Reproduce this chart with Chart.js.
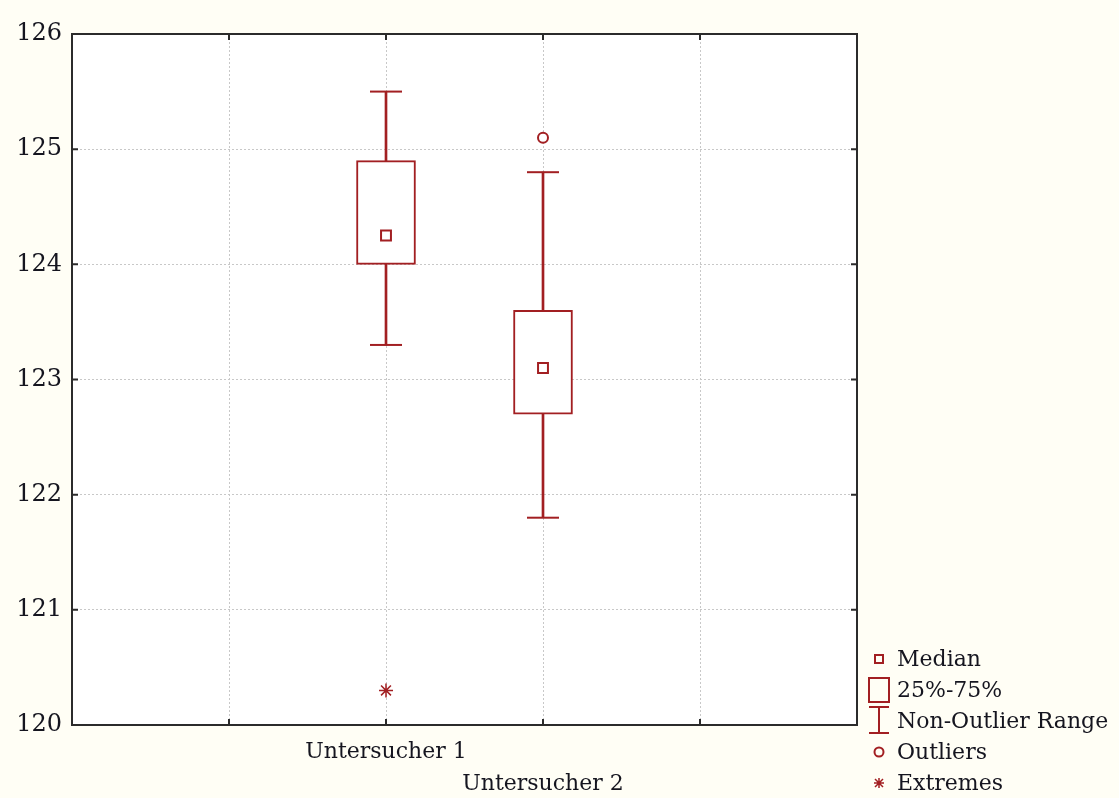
<!DOCTYPE html>
<html>
<head>
<meta charset="utf-8">
<script src="https://cdn.jsdelivr.net/npm/chart.js@4/dist/chart.umd.min.js"></script>
<style>
    html, body { margin: 0; padding: 0; background: #fffef5; }
    #wrap { width: 1119px; height: 798px; }
</style>
</head>
<body>
<div id="wrap"><canvas id="box-chart"></canvas></div>
<script>
// Box plot values
const groups = ['Untersucher 1', 'Untersucher 2'];
const groupPos = [1, 2];
const medians = [124.25, 123.1];
const q1 = [124.0, 122.7];
const q3 = [124.9, 123.6];
const whiskerLow = [123.3, 121.8];
const whiskerHigh = [125.5, 124.8];
const outliers = [[], [125.1]];
const extremes = [[120.3], []];
const legendLabels = ['Median', '25%-75%', 'Non-Outlier Range', 'Outliers', 'Extremes'];

const RED = '#a21f22';
const TEXT = '#15151f';
const FONT = "'DejaVu Serif', serif";

// Build point lists from the arrays
const medianPts = groupPos.map((x, i) => ({ x: x, y: medians[i] }));
const boxPts = groupPos.map((x, i) => ({ x: x, y: [q1[i], q3[i]] }));
const rangePts = groupPos.map((x, i) => ({ x: x, y: [whiskerLow[i], whiskerHigh[i]] }));
const capPts = [];
groupPos.forEach((x, i) => {
    capPts.push({ x: x, y: whiskerLow[i] });
    capPts.push({ x: x, y: whiskerHigh[i] });
});
const outlierPts = [];
const extremePts = [];
groupPos.forEach((x, i) => {
    outliers[i].forEach(v => outlierPts.push({ x: x, y: v }));
    extremes[i].forEach(v => extremePts.push({ x: x, y: v }));
});

// White plot area, frame and inward tick marks
const framePlugin = {
    id: 'frame',
    beforeDraw(chart) {
        const { ctx, chartArea: a } = chart;
        ctx.save();
        ctx.fillStyle = '#ffffff';
        ctx.fillRect(a.left, a.top, a.right - a.left, a.bottom - a.top);
        ctx.restore();
    },
    afterDraw(chart) {
        const { ctx, chartArea: a, scales } = chart;
        ctx.save();
        ctx.strokeStyle = '#2b2b2b';
        ctx.lineWidth = 2;
        ctx.strokeRect(a.left, a.top, a.right - a.left, a.bottom - a.top);
        ctx.beginPath();
        scales.x.ticks.forEach(t => {
            const px = scales.x.getPixelForValue(t.value);
            if (px <= a.left + 1 || px >= a.right - 1) return;
            ctx.moveTo(px, a.top); ctx.lineTo(px, a.top + 6);
            ctx.moveTo(px, a.bottom); ctx.lineTo(px, a.bottom - 6);
        });
        scales.y.ticks.forEach(t => {
            const py = scales.y.getPixelForValue(t.value);
            if (py <= a.top + 1 || py >= a.bottom - 1) return;
            ctx.moveTo(a.left, py); ctx.lineTo(a.left + 6, py);
            ctx.moveTo(a.right, py); ctx.lineTo(a.right - 6, py);
        });
        ctx.stroke();
        ctx.restore();
    }
};

// Legend to the right of the plot
const legendPlugin = {
    id: 'boxLegend',
    afterDraw(chart) {
        const { ctx, chartArea: a } = chart;
        const sx = a.right + 22;
        const tx = a.right + 40;
        const y0 = a.bottom - 66;
        const step = 31;
        ctx.save();
        ctx.strokeStyle = RED;
        ctx.lineWidth = 2;
        legendLabels.forEach((label, i) => {
            const y = y0 + i * step;
            ctx.beginPath();
            if (i === 0) {
                ctx.rect(sx - 4, y - 4, 8, 8);
            } else if (i === 1) {
                ctx.rect(sx - 10, y - 12, 20, 24);
            } else if (i === 2) {
                ctx.moveTo(sx - 10, y - 14); ctx.lineTo(sx + 10, y - 14);
                ctx.moveTo(sx, y - 14); ctx.lineTo(sx, y + 12);
                ctx.moveTo(sx - 10, y + 12); ctx.lineTo(sx + 10, y + 12);
            } else if (i === 3) {
                ctx.arc(sx, y, 4.5, 0, Math.PI * 2);
            } else {
                ctx.lineWidth = 1.5;
                ctx.moveTo(sx - 5, y); ctx.lineTo(sx + 5, y);
                ctx.moveTo(sx, y - 5); ctx.lineTo(sx, y + 5);
                ctx.moveTo(sx - 4, y - 4); ctx.lineTo(sx + 4, y + 4);
                ctx.moveTo(sx - 4, y + 4); ctx.lineTo(sx + 4, y - 4);
            }
            ctx.stroke();
        });
        ctx.fillStyle = TEXT;
        ctx.font = '22px ' + FONT;
        ctx.textBaseline = 'middle';
        ctx.textAlign = 'left';
        legendLabels.forEach((label, i) => {
            ctx.fillText(label, tx, y0 + i * step + 1);
        });
        ctx.restore();
    }
};

const ctx = document.getElementById('box-chart').getContext('2d');
new Chart(ctx, {
    type: 'bar',
    data: {
        datasets: [
            {
                type: 'scatter', label: 'Median', data: medianPts,
                pointStyle: 'rect', pointRadius: 7, borderColor: RED,
                backgroundColor: '#ffffff', pointBorderWidth: 2
            },
            {
                type: 'scatter', label: 'Outliers', data: outlierPts,
                pointStyle: 'circle', pointRadius: 5, borderColor: RED,
                backgroundColor: '#ffffff', pointBorderWidth: 2
            },
            {
                type: 'scatter', label: 'Extremes', data: extremePts,
                pointStyle: 'star', pointRadius: 7, borderColor: RED,
                pointBorderWidth: 1.5
            },
            {
                type: 'bar', label: '25%-75%', data: boxPts,
                backgroundColor: '#ffffff', borderColor: RED, borderWidth: 2,
                borderSkipped: false, barThickness: 59, grouped: false
            },
            {
                type: 'scatter', label: 'caps', data: capPts,
                pointStyle: 'line', pointRadius: 16, borderColor: RED,
                pointBorderWidth: 2
            },
            {
                type: 'bar', label: 'Non-Outlier Range', data: rangePts,
                backgroundColor: RED, borderWidth: 0,
                barThickness: 2, grouped: false
            }
        ]
    },
    options: {
        responsive: true,
        maintainAspectRatio: false,
        animation: false,
        layout: { padding: { top: 34, right: 262, bottom: 0, left: 0 } },
        plugins: {
            legend: { display: false },
            tooltip: { enabled: false }
        },
        scales: {
            x: {
                type: 'linear',
                min: -1,
                max: 4,
                offset: false,
                afterFit(scale) { scale.height = 73; },
                grid: { color: '#c8c8c8', lineWidth: 1, drawTicks: false, offset: false },
                border: { display: false, dash: [2, 2] },
                ticks: {
                    stepSize: 1,
                    autoSkip: false,
                    maxRotation: 0,
                    padding: 11,
                    color: TEXT,
                    font: { family: FONT, size: 22 , lineHeight: 1.45 },
                    callback(value) {
                        const i = groupPos.indexOf(value);
                        if (i === 0) return [groups[0], ''];
                        if (i === 1) return ['', groups[1]];
                        return '';
                    }
                }
            },
            y: {
                min: 120,
                max: 126,
                afterFit(scale) { scale.width = 72; },
                grid: { color: '#c8c8c8', lineWidth: 1, drawTicks: false },
                border: { display: false, dash: [2, 2] },
                ticks: {
                    stepSize: 1,
                    padding: 10,
                    color: TEXT,
                    font: { family: FONT, size: 24 }
                }
            }
        }
    },
    plugins: [framePlugin, legendPlugin]
});
</script>
</body>
</html>
